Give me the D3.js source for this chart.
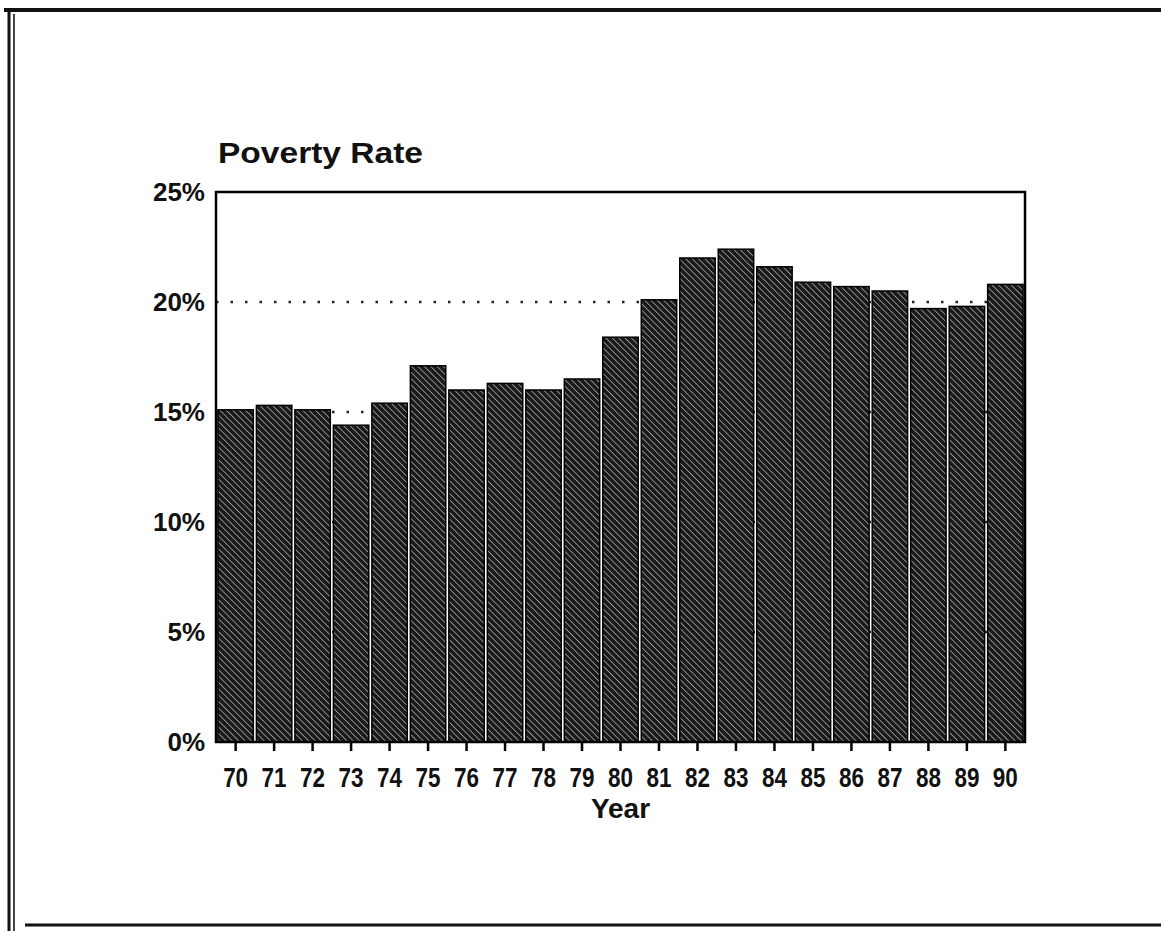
<!DOCTYPE html>
<html>
<head>
<meta charset="utf-8">
<script src="https://cdn.jsdelivr.net/npm/d3@7"></script>
<style>
  body { margin: 0; background: #fff; }
  svg { display: block; }
  .lbl { font-family: "Liberation Sans", Arial, sans-serif; font-weight: bold; fill: #111; }
</style>
</head>
<body>
<svg id="chart" width="1161" height="931"></svg>
<script>
// poverty rate by year
var years = ["70","71","72","73","74","75","76","77","78","79","80",
             "81","82","83","84","85","86","87","88","89","90"];
var rates = [15.1, 15.3, 15.1, 14.4, 15.4, 17.1, 16.0, 16.3, 16.0, 16.5, 18.4,
             20.1, 22.0, 22.4, 21.6, 20.9, 20.7, 20.5, 19.7, 19.8, 20.8];
var yTicks = [0, 5, 10, 15, 20, 25];
var gridLines = [5, 10, 15, 20];

var svg = d3.select("#chart");
var pLeft = 216, pRight = 1025, pTop = 192, pBottom = 742;

var x = d3.scaleBand().domain(years).range([pLeft, pRight])
  .paddingInner(0.08).paddingOuter(0.05);
var y = d3.scaleLinear().domain([0, 25]).range([pBottom, pTop]);

// hatch fill for the bars, lines running top-left to bottom-right
var defs = svg.append("defs");
var pat = defs.append("pattern")
  .attr("id", "hatch")
  .attr("patternUnits", "userSpaceOnUse")
  .attr("width", 4.5).attr("height", 4.5)
  .attr("patternTransform", "rotate(-45)");
pat.append("rect").attr("width", 4.5).attr("height", 4.5).attr("fill", "#1a1a1a");
pat.append("line").attr("x1", 0).attr("y1", 0).attr("x2", 0).attr("y2", 4.5)
  .attr("stroke", "#b0b0b0").attr("stroke-width", 1.5);

// page border
svg.append("line").attr("x1", 4).attr("y1", 10).attr("x2", 1161).attr("y2", 10)
  .attr("stroke", "#111").attr("stroke-width", 4);
svg.append("line").attr("x1", 9).attr("y1", 10).attr("x2", 9).attr("y2", 931)
  .attr("stroke", "#111").attr("stroke-width", 3);
svg.append("line").attr("x1", 14).attr("y1", 14).attr("x2", 14).attr("y2", 931)
  .attr("stroke", "#444").attr("stroke-width", 2);
svg.append("line").attr("x1", 25).attr("y1", 925).attr("x2", 1161).attr("y2", 925)
  .attr("stroke", "#111").attr("stroke-width", 3);

// dotted grid
svg.append("g").selectAll("line").data(gridLines).join("line")
  .attr("x1", pLeft).attr("x2", pRight)
  .attr("y1", function(d) { return y(d); })
  .attr("y2", function(d) { return y(d); })
  .attr("stroke", "#222").attr("stroke-width", 2.5)
  .attr("stroke-dasharray", "2.5,12");

// bars
svg.append("g").selectAll("rect").data(rates).join("rect")
  .attr("x", function(d, i) { return x(years[i]); })
  .attr("y", function(d) { return y(d); })
  .attr("width", x.bandwidth())
  .attr("height", function(d) { return y(0) - y(d); })
  .attr("fill", "url(#hatch)")
  .attr("stroke", "#000").attr("stroke-width", 1.5);

// plot frame
svg.append("rect").attr("x", pLeft).attr("y", pTop)
  .attr("width", pRight - pLeft).attr("height", pBottom - pTop)
  .attr("fill", "none").attr("stroke", "#000").attr("stroke-width", 2.5);

// x axis ticks and labels
var xAxis = d3.axisBottom(x).tickSize(9).tickPadding(16);
var gx = svg.append("g").attr("transform", "translate(0," + pBottom + ")").call(xAxis);
gx.select(".domain").remove();
gx.selectAll(".tick line").attr("stroke", "#000").attr("stroke-width", 2.5);
gx.selectAll(".tick text").attr("class", "lbl")
  .attr("font-size", 28).attr("font-family", null)
  .attr("textLength", 25).attr("lengthAdjust", "spacingAndGlyphs");

// y labels
var yAxis = d3.axisLeft(y).tickValues(yTicks).tickSize(0).tickPadding(11)
  .tickFormat(function(d) { return d + "%"; });
var gy = svg.append("g").attr("transform", "translate(" + pLeft + ",0)").call(yAxis);
gy.select(".domain").remove();
gy.selectAll(".tick text").attr("class", "lbl")
  .attr("font-size", 26).attr("font-family", null);

// titles
svg.append("text").attr("class", "lbl").attr("x", 218).attr("y", 163)
  .attr("font-size", 29).attr("textLength", 205).attr("lengthAdjust", "spacingAndGlyphs")
  .text("Poverty Rate");
svg.append("text").attr("class", "lbl").attr("x", (pLeft + pRight) / 2).attr("y", 818)
  .attr("text-anchor", "middle").attr("font-size", 28)
  .text("Year");
</script>
</body>
</html>
